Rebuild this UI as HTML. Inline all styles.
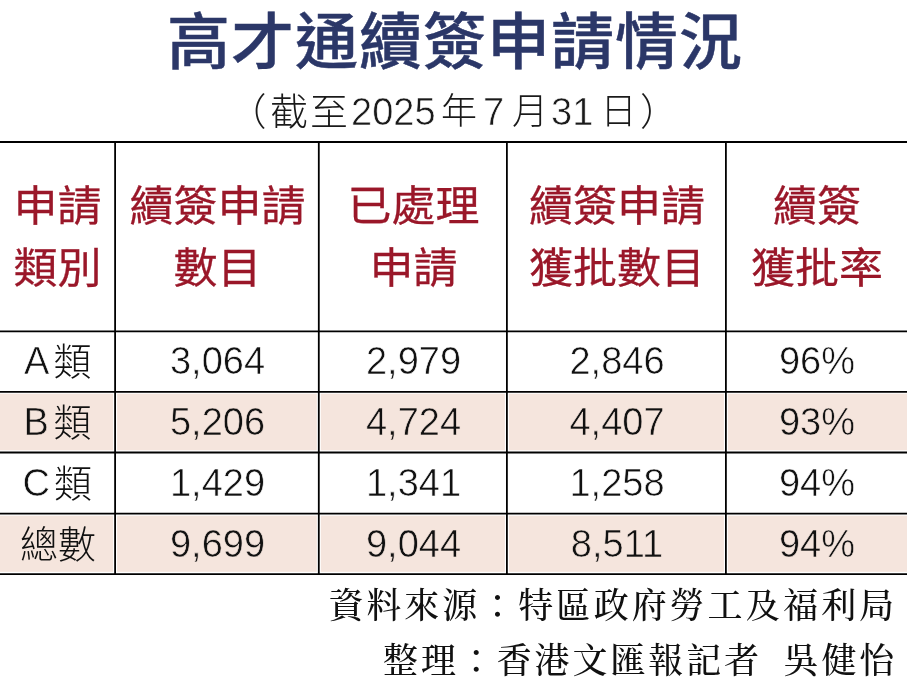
<!DOCTYPE html>
<html lang="zh-Hant">
<head>
<meta charset="utf-8">
<title>高才通續簽申請情況</title>
<style>
html,body{margin:0;padding:0;background:#fff;}
body{width:907px;height:690px;position:relative;overflow:hidden;}
.a{position:absolute;white-space:nowrap;}
.title{font-family:"Liberation Sans","Noto Sans CJK TC",sans-serif;font-weight:500;font-size:63px;line-height:80px;color:#2b3768;-webkit-text-stroke:0.5px #2b3768;letter-spacing:1px;transform:scaleY(0.967);transform-origin:0 0;}
.sub{font-family:"Liberation Sans","Noto Sans CJK TC",sans-serif;font-weight:300;font-size:38px;line-height:50px;color:#1a1a1a;}
.grid{position:absolute;left:0;top:0;}
.hd{position:absolute;text-align:center;font-family:"Liberation Sans","Noto Sans CJK TC",sans-serif;font-weight:400;font-size:44px;line-height:64px;color:#9a1729;-webkit-text-stroke:0.3px #9a1729;transform:scaleY(0.964);transform-origin:0 0;}
.c{position:absolute;text-align:center;font-family:"Liberation Sans","Noto Sans CJK TC",sans-serif;font-weight:400;font-size:38px;line-height:60px;color:#111;-webkit-text-stroke:0.6px #fff;}
.pk{-webkit-text-stroke-color:#f5e5dd !important;}
.cj{position:absolute;white-space:nowrap;font-family:"Noto Sans CJK TC",sans-serif;font-weight:300;font-size:38px;line-height:60px;color:#111;}
.la{position:absolute;white-space:nowrap;font-family:"Liberation Sans",sans-serif;font-weight:400;font-size:38px;line-height:60px;color:#111;-webkit-text-stroke:0.6px #fff;}
.thin{-webkit-text-stroke:0.6px #fff;}
.ft{position:absolute;white-space:nowrap;font-family:"Liberation Serif","Noto Serif CJK TC",serif;font-weight:500;font-size:35px;line-height:50px;color:#111;letter-spacing:2.9px;}
</style>
</head>
<body>
<div class="a title m" id="t1" style="left:167px;top:3.5px">高才通續簽申請情況</div>
<div class="a sub m" id="s0" style="left:228.5px;top:87px">（</div>
<div class="a sub m" id="s1" style="left:270px;top:87px;letter-spacing:2px">截至</div>
<div class="a sub m thin" id="s2" style="left:351px;top:87px">2025</div>
<div class="a sub m" id="s3" style="font-size:36px;left:441px;top:87px">年</div>
<div class="a sub m thin" id="s4" style="left:483px;top:87px">7</div>
<div class="a sub m" id="s5" style="font-size:36px;left:512px;top:87px">月</div>
<div class="a sub m thin" id="s6" style="left:551px;top:87px">31</div>
<div class="a sub m" id="s7" style="font-size:36px;left:600.5px;top:87px">日</div>
<div class="a sub m" id="s8" style="left:640px;top:87px">）</div>

<svg class="grid" width="907" height="690" viewBox="0 0 907 690">
<g fill="#f5e5dd">
<rect x="0" y="393.7" width="113.1" height="56.6"/>
<rect x="117.1" y="393.7" width="199.7" height="56.6"/>
<rect x="320.8" y="393.7" width="184.1" height="56.6"/>
<rect x="508.9" y="393.7" width="215.0" height="56.6"/>
<rect x="727.9" y="393.7" width="179.1" height="56.6"/>
<rect x="0" y="515.7" width="113.1" height="56.1"/>
<rect x="117.1" y="515.7" width="199.7" height="56.1"/>
<rect x="320.8" y="515.7" width="184.1" height="56.1"/>
<rect x="508.9" y="515.7" width="215.0" height="56.1"/>
<rect x="727.9" y="515.7" width="179.1" height="56.1"/>
</g>
<g stroke="#000" stroke-width="1.8">
<line x1="0" y1="142" x2="907" y2="142"/>
<line x1="0" y1="331.4" x2="907" y2="331.4"/>
<line x1="0" y1="391.8" x2="907" y2="391.8"/>
<line x1="0" y1="452.5" x2="907" y2="452.5"/>
<line x1="0" y1="513.7" x2="907" y2="513.7"/>
<line x1="0" y1="574.2" x2="907" y2="574.2"/>
<line x1="115.1" y1="142" x2="115.1" y2="574.2"/>
<line x1="318.8" y1="142" x2="318.8" y2="574.2"/>
<line x1="506.9" y1="142" x2="506.9" y2="574.2"/>
<line x1="725.9" y1="142" x2="725.9" y2="574.2"/>
</g></svg>

<!-- header -->
<div class="hd m" id="h1" style="left:0;width:115px;top:176.3px">申請<br>類別</div>
<div class="hd m" id="h2" style="left:116px;width:203px;top:176.3px">續簽申請<br>數目</div>
<div class="hd m" id="h3" style="left:320px;width:187px;top:176.3px">已處理<br>申請</div>
<div class="hd m" id="h4" style="left:508px;width:218px;top:176.3px">續簽申請<br>獲批數目</div>
<div class="hd m" id="h5" style="left:727px;width:180px;top:176.3px">續簽<br>獲批率</div>

<!-- rows -->
<div class="la m" id="r1a" style="left:24px;top:331px">A</div>
<div class="cj m" id="r1b" style="left:53.5px;top:328.5px">類</div>
<div class="c m" id="r1c2" style="left:116px;width:203px;top:331px">3,064</div>
<div class="c m" id="r1c3" style="left:320px;width:187px;top:331px">2,979</div>
<div class="c m" id="r1c4" style="left:508px;width:218px;top:331px">2,846</div>
<div class="c m" id="r1c5" style="left:727px;width:180px;top:331px">96%</div>

<div class="la m pk" id="r2a" style="left:23.5px;top:391.5px">B</div>
<div class="cj m" id="r2b" style="left:53.5px;top:389.5px">類</div>
<div class="c m pk" id="r2c2" style="left:116px;width:203px;top:392px">5,206</div>
<div class="c m pk" id="r2c3" style="left:320px;width:187px;top:392px">4,724</div>
<div class="c m pk" id="r2c4" style="left:508px;width:218px;top:392px">4,407</div>
<div class="c m pk" id="r2c5" style="left:727px;width:180px;top:392px">93%</div>

<div class="la m" id="r3a" style="left:22.5px;top:452.5px">C</div>
<div class="cj m" id="r3b" style="left:54px;top:450.7px">類</div>
<div class="c m" id="r3c2" style="left:116px;width:203px;top:453px">1,429</div>
<div class="c m" id="r3c3" style="left:320px;width:187px;top:453px">1,341</div>
<div class="c m" id="r3c4" style="left:508px;width:218px;top:453px">1,258</div>
<div class="c m" id="r3c5" style="left:727px;width:180px;top:453px">94%</div>

<div class="cj m" id="r4a" style="left:20px;top:512.3px">總數</div>
<div class="c m pk" id="r4c2" style="left:116px;width:203px;top:514px">9,699</div>
<div class="c m pk" id="r4c3" style="left:320px;width:187px;top:514px">9,044</div>
<div class="c m pk" id="r4c4" style="left:508px;width:218px;top:514px">8,511</div>
<div class="c m pk" id="r4c5" style="left:727px;width:180px;top:514px">94%</div>

<!-- footer -->
<div class="ft m" id="f1" style="left:328.5px;top:582px">資料來源：特區政府勞工及福利局</div>
<div class="ft m" id="f2" style="left:383px;top:637px">整理：香港文匯報記者</div>
<div class="ft m" id="f3" style="left:783.5px;top:637px">吳健怡</div>
</body>
</html>
